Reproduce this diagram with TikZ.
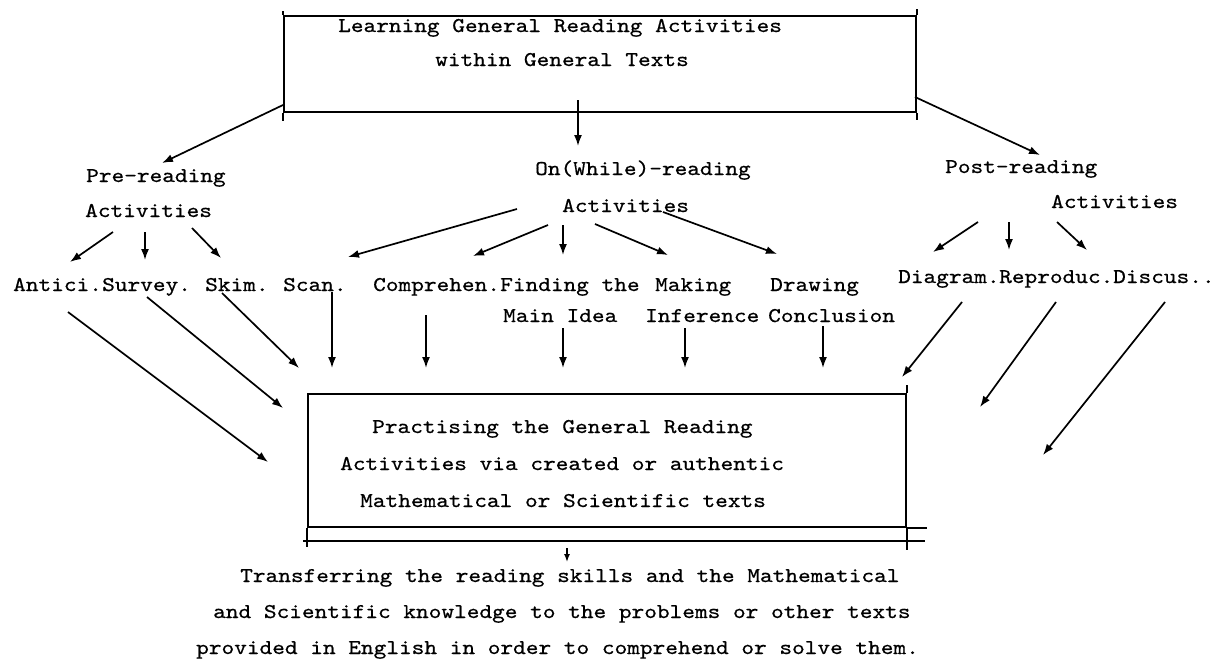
\documentclass[tikz,border=0pt]{standalone}
\usepackage{fontspec}
\newfontfamily\tw[FakeStretch=1.15,FakeBold=0.6]{lmmono10-regular.otf}
\usetikzlibrary{arrows.meta}
\begin{document}
\begin{tikzpicture}[x=1pt,y=-1pt,
  lbl/.style={font=\tw\fontsize{21}{25}\selectfont, inner sep=0pt, anchor=base west},
  arr/.style={-{Latex[length=11pt,width=8pt]}, line width=1.7pt},
  smallarr/.style={-{Latex[length=8pt,width=6pt]}, line width=1.4pt},
  boxline/.style={line width=2pt},
  box/.style={draw, line width=2pt, inner sep=0pt, anchor=north west}]
\useasboundingbox (0,0) rectangle (1218,659);

% ---------- top box ----------
\node[box, minimum width=632pt, minimum height=96pt] (topbox) at (283,15) {};
\draw[boxline] (topbox.north west) -- ++(0,-4);
\draw[boxline] (topbox.south west) -- ++(0,8);
\draw[boxline] (topbox.north east) -- ++(0,-6);
\draw[boxline] (topbox.south east) -- ++(0,7);
\node[lbl] (t1) at (338,32) {Learning General Reading Activities};
\node[lbl] (t2) at (435,66) {within General Texts};

% ---------- level 1 ----------
\node[lbl] (pre1) at (86,182) {Pre-reading};
\node[lbl] (pre2) at (85,217) {Activities};
\node[lbl] (on1) at (535,175) {On(While)-reading};
\node[lbl] (on2) at (562,212) {Activities};
\node[lbl] (post1) at (945,173) {Post-reading};
\node[lbl] (post2) at (1051,208) {Activities};

% ---------- level 2 ----------
\node[lbl] (antici) at (13,291) {Antici.};
\node[lbl] (survey) at (102,291) {Survey.};
\node[lbl] (skim) at (205,291) {Skim.};
\node[lbl] (scan) at (283,291) {Scan.};
\node[lbl] (comp) at (373,291) {Comprehen.};
\node[lbl] (find1) at (500,291) {Finding the};
\node[lbl] (make1) at (655,291) {Making};
\node[lbl] (draw1) at (770,291) {Drawing};
\node[lbl] (main2) at (503,322) {Main Idea};
\node[lbl] (infer2) at (645,322) {Inference};
\node[lbl] (concl2) at (768,322) {Conclusion};
\node[lbl] (diag) at (898,283) {Diagram.};
\node[lbl] (repro) at (999,283) {Reproduc.};
\node[lbl] (discus) at (1113,283) {Discus..};

% ---------- practising box ----------
\node[box, minimum width=598pt, minimum height=133pt] (pbox) at (307,393) {};
\draw[boxline] (pbox.south east) -- ++(20,0);
\draw[boxline] (pbox.south west) -- ++(0,19);
\draw[boxline] (pbox.north east) -- ++(0,-8);
\draw[boxline] (pbox.south east) -- ++(0,22);
\coordinate (l2a) at (303,541);
\coordinate (l2b) at (925,541);
\draw[boxline] (l2a) -- (l2b);
\node[lbl] (p1) at (372,433) {Practising the General Reading};
\node[lbl] (p2) at (340,470) {Activities via created or authentic};
\node[lbl] (p3) at (360,507) {Mathematical or Scientific texts};

% ---------- transfer text ----------
\node[lbl] (tr1) at (240,582) {Transferring the reading skills and the Mathematical};
\node[lbl] (tr2) at (213,618) {and Scientific knowledge to the problems or other texts};
\node[lbl] (tr3) at (196,654) {provided in English in order to comprehend or solve them.};

% ---------- connector end points ----------
\foreach \n/\x/\y in {
  tbL/283/105, preT/162/163, tbC/578/100, onT/578/146, tbR/915/97, postT/1040/155,
  pa1/113/232, pa1t/70/262, pa2/145/232, pa2t/145/260, pa3/192/228, pa3t/221/258,
  oa1/517/209, oa1t/348/257, oa2/548/225, oa2t/473/256, oa3/563/225, oa3t/563/255,
  oa4/595/224, oa4t/668/255, oa5/663/212, oa5t/777/254,
  sa1/978/222, sa1t/933/252, sa2/1009/222, sa2t/1009/250, sa3/1057/222, sa3t/1087/250,
  d1/68/312, d1t/268/462, d2/147/297, d2t/283/408, d3/222/293, d3t/299/368,
  d4/332/292, d4t/332/368, d5/426/315, d5t/426/368, d6/563/328, d6t/563/368,
  d7/685/328, d7t/685/368, d8/823/326, d8t/823/368,
  d9/962/302, d9t/902/377, d10/1056/302, d10t/980/407, d11/1165/302, d11t/1043/455,
  b1/567/548, b1t/567/562}
  \coordinate (\n) at (\x,\y);

% ---------- connectors ----------
\draw[arr] (tbL) -- (preT);
\draw[arr] (tbC) -- (onT);
\draw[arr] (tbR) -- (postT);

\draw[arr] (pa1) -- (pa1t);
\draw[arr] (pa2) -- (pa2t);
\draw[arr] (pa3) -- (pa3t);

\draw[arr] (oa1) -- (oa1t);
\draw[arr] (oa2) -- (oa2t);
\draw[arr] (oa3) -- (oa3t);
\draw[arr] (oa4) -- (oa4t);
\draw[arr] (oa5) -- (oa5t);

\draw[arr] (sa1) -- (sa1t);
\draw[arr] (sa2) -- (sa2t);
\draw[arr] (sa3) -- (sa3t);

\draw[arr] (d1) -- (d1t);
\draw[arr] (d2) -- (d2t);
\draw[arr] (d3) -- (d3t);
\draw[arr] (d4) -- (d4t);
\draw[arr] (d5) -- (d5t);
\draw[arr] (d6) -- (d6t);
\draw[arr] (d7) -- (d7t);
\draw[arr] (d8) -- (d8t);
\draw[arr] (d9) -- (d9t);
\draw[arr] (d10) -- (d10t);
\draw[arr] (d11) -- (d11t);

\draw[smallarr] (b1) -- (b1t);
\end{tikzpicture}
\end{document}
